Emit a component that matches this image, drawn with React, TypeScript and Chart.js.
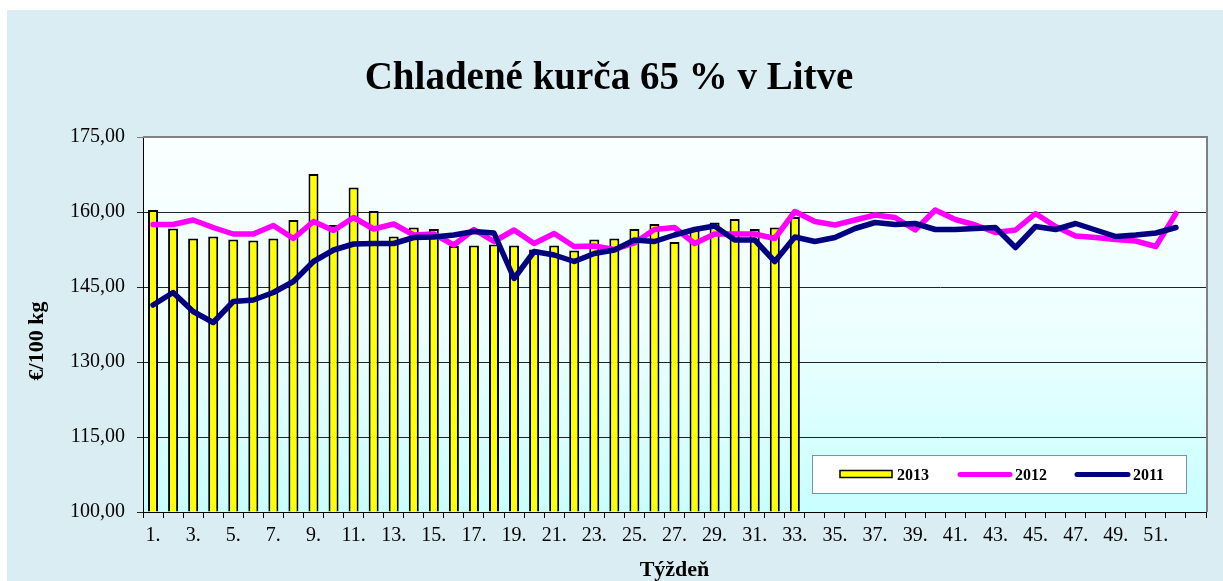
import React, { useEffect, useRef } from "react";
import { Chart, registerables } from "chart.js";

Chart.register(...registerables);

const weeks = [
  "1.", "2.", "3.", "4.", "5.", "6.", "7.", "8.", "9.", "10.",
  "11.", "12.", "13.", "14.", "15.", "16.", "17.", "18.", "19.", "20.",
  "21.", "22.", "23.", "24.", "25.", "26.", "27.", "28.", "29.", "30.",
  "31.", "32.", "33.", "34.", "35.", "36.", "37.", "38.", "39.", "40.",
  "41.", "42.", "43.", "44.", "45.", "46.", "47.", "48.", "49.", "50.",
  "51.", "52.", "53.",
];

const values2013 = [
  160.4, 156.7, 154.7, 155.1, 154.5, 154.3, 154.7, 158.4, 167.6, 157.4,
  164.9, 160.2, 155.1, 156.9, 156.6, 153.2, 153.3, 153.5, 153.3, 152.5,
  153.3, 152.3, 154.5, 154.7, 156.6, 157.6, 154.0, 156.5, 157.9, 158.6,
  156.6, 156.9, 159.0,
];

const values2012 = [
  157.5, 157.5, 158.4, 156.9, 155.6, 155.6, 157.3, 154.7, 158.1, 156.3,
  158.9, 156.6, 157.6, 155.4, 155.6, 153.4, 156.5, 154.1, 156.4, 153.7,
  155.7, 153.1, 153.2, 152.5, 153.8, 156.5, 156.9, 153.7, 155.6, 155.6,
  155.6, 154.7, 160.1, 158.1, 157.4, 158.4, 159.4, 158.9, 156.4, 160.4,
  158.5, 157.4, 155.9, 156.4, 159.7, 157.1, 155.2, 154.9, 154.5, 154.2,
  153.1, 159.7,
];

const values2011 = [
  141.4, 143.9, 140.1, 137.9, 142.1, 142.4, 143.9, 146.1, 150.1, 152.4,
  153.6, 153.7, 153.7, 154.9, 155.0, 155.4, 156.1, 155.8, 146.7, 152.1,
  151.4, 150.1, 151.7, 152.4, 154.4, 154.1, 155.4, 156.5, 157.2, 154.4,
  154.4, 150.1, 155.0, 154.1, 154.9, 156.7, 157.9, 157.5, 157.7, 156.5,
  156.5, 156.7, 156.9, 152.9, 157.1, 156.5, 157.7, 156.4, 155.1, 155.4,
  155.8, 156.9,
];

const yTicks = [100, 115, 130, 145, 160, 175];

const seriesNames = ["2013", "2012", "2011"];
const titleText = "Chladené kurča 65 % v Litve";
const yTitle = "€/100 kg";
const xTitle = "Týždeň";

const SERIF = "'Liberation Serif', 'Times New Roman', serif";

const bgPlugin = {
  id: "bgPlugin",
  beforeDraw(chart: any) {
    const { ctx, width, height, chartArea } = chart;
    ctx.save();
    ctx.fillStyle = "#ffffff";
    ctx.fillRect(0, 0, width, height);
    ctx.fillStyle = "#DAEDF3";
    ctx.fillRect(7, 10, width - 7, height - 10);
    const g = ctx.createLinearGradient(0, chartArea.top, 0, chartArea.bottom);
    g.addColorStop(0, "#FAFFFF");
    g.addColorStop(0.5, "#EEFFFF");
    g.addColorStop(1, "#C8FFFF");
    ctx.fillStyle = g;
    ctx.fillRect(chartArea.left, chartArea.top, chartArea.right - chartArea.left, chartArea.bottom - chartArea.top);
    ctx.restore();
  },
  afterDraw(chart: any) {
    const { ctx, chartArea } = chart;
    ctx.save();
    // plot border top/right (grey)
    ctx.strokeStyle = "#808080";
    ctx.lineWidth = 2;
    ctx.beginPath();
    ctx.moveTo(chartArea.left, chartArea.top);
    ctx.lineTo(chartArea.right + 1, chartArea.top);
    ctx.lineTo(chartArea.right + 1, chartArea.bottom);
    ctx.stroke();

    // title
    ctx.fillStyle = "#000";
    ctx.font = `bold 39px ${SERIF}`;
    ctx.textAlign = "center";
    ctx.textBaseline = "middle";
    ctx.fillText(titleText, 609, 79);

    // y axis title
    ctx.save();
    ctx.translate(37, 341);
    ctx.rotate(-Math.PI / 2);
    ctx.font = `bold 22px ${SERIF}`;
    ctx.textAlign = "center";
    ctx.textBaseline = "middle";
    ctx.fillText(yTitle, 0, 0);
    ctx.restore();

    // legend
    const lx = 812.5, ly = 455.5, lw = 374, lh = 38;
    ctx.fillStyle = "#ffffff";
    ctx.fillRect(lx, ly, lw, lh);
    ctx.strokeStyle = "#6D8FD4";
    ctx.lineWidth = 1;
    ctx.strokeRect(lx, ly, lw, lh);
    const cy = ly + 19;
    ctx.font = `bold 16px ${SERIF}`;
    ctx.textAlign = "left";
    ctx.textBaseline = "middle";
    // 2013
    ctx.fillStyle = "#FFFF00";
    ctx.fillRect(840, cy - 4, 52, 7);
    ctx.strokeStyle = "#000";
    ctx.lineWidth = 1.5;
    ctx.strokeRect(840, cy - 4, 52, 7);
    ctx.fillStyle = "#000";
    ctx.fillText(seriesNames[0], 897, cy + 1);
    // 2012
    ctx.lineCap = "round";
    ctx.lineWidth = 5;
    ctx.strokeStyle = "#FF00FF";
    ctx.beginPath();
    ctx.moveTo(960, cy);
    ctx.lineTo(1010, cy);
    ctx.stroke();
    ctx.fillText(seriesNames[1], 1015, cy + 1);
    // 2011
    ctx.strokeStyle = "#000080";
    ctx.beginPath();
    ctx.moveTo(1077, cy);
    ctx.lineTo(1128, cy);
    ctx.stroke();
    ctx.fillText(seriesNames[2], 1133, cy + 1);
    ctx.restore();
  },
};

export default function App() {
  const ref = useRef<HTMLCanvasElement | null>(null);

  useEffect(() => {
    if (!ref.current) return;
    const chart = new Chart(ref.current, {
      type: "bar",
      data: {
        labels: weeks,
        datasets: [
          {
            type: "line",
            label: seriesNames[2],
            data: values2011,
            borderColor: "#000080",
            backgroundColor: "#000080",
            borderWidth: 5.5,
            pointRadius: 0,
            tension: 0,
            fill: false,
            borderJoinStyle: "round",
            borderCapStyle: "round",
            order: 1,
          } as any,
          {
            type: "line",
            label: seriesNames[1],
            data: values2012,
            borderColor: "#FF00FF",
            backgroundColor: "#FF00FF",
            borderWidth: 5.5,
            pointRadius: 0,
            tension: 0,
            fill: false,
            borderJoinStyle: "round",
            borderCapStyle: "round",
            order: 2,
          } as any,
          {
            type: "bar",
            label: seriesNames[0],
            data: values2013,
            backgroundColor: "#FFFF00",
            borderColor: "#000000",
            borderWidth: 2,
            barPercentage: 0.5,
            categoryPercentage: 1,
            base: 100,
            order: 3,
          } as any,
        ],
      },
      options: {
        responsive: false,
        animation: false,
        layout: { padding: { left: 0, top: 137, right: 17, bottom: 0 } },
        plugins: {
          legend: { display: false },
          tooltip: { enabled: false },
          title: { display: false },
        },
        scales: {
          x: {
            offset: true,
            grid: {
              offset: true,
              drawOnChartArea: false,
              drawTicks: true,
              tickLength: 6,
              color: "#000",
            },
            border: { color: "#000", width: 1 },
            ticks: {
              autoSkip: false,
              maxRotation: 0,
              minRotation: 0,
              padding: 6,
              color: "#000",
              font: { family: SERIF, size: 20 },
              callback: (_v: any, i: number) => (i % 2 === 0 && i < 52 ? weeks[i] : ""),
            },
            title: {
              display: true,
              text: xTitle,
              color: "#000",
              font: { family: SERIF, size: 22, weight: "bold", lineHeight: 1 },
              padding: { top: 0, bottom: 0 },
            },
            afterFit: (s: any) => {
              s.height = 69;
            },
          },
          y: {
            min: 100,
            max: 175,
            afterBuildTicks: (s: any) => {
              s.ticks = yTicks.map((v) => ({ value: v }));
            },
            grid: {
              color: (c: any) => (c.tick && c.tick.value === 175 ? "#808080" : "#222222"),
              tickLength: 6,
              lineWidth: 1,
            },
            border: { color: "#000", width: 1 },
            ticks: {
              padding: 12,
              color: "#000",
              font: { family: SERIF, size: 20 },
              callback: (v: any) => Number(v).toFixed(2).replace(".", ","),
            },
            afterFit: (s: any) => {
              s.width = 143;
            },
          },
        },
      },
      plugins: [bgPlugin],
    });
    return () => chart.destroy();
  }, []);

  return (
    <div style={{ position: "absolute", left: 0, top: 0, width: 1223, height: 581 }}>
      <canvas ref={ref} width={1223} height={581} />
    </div>
  );
}
